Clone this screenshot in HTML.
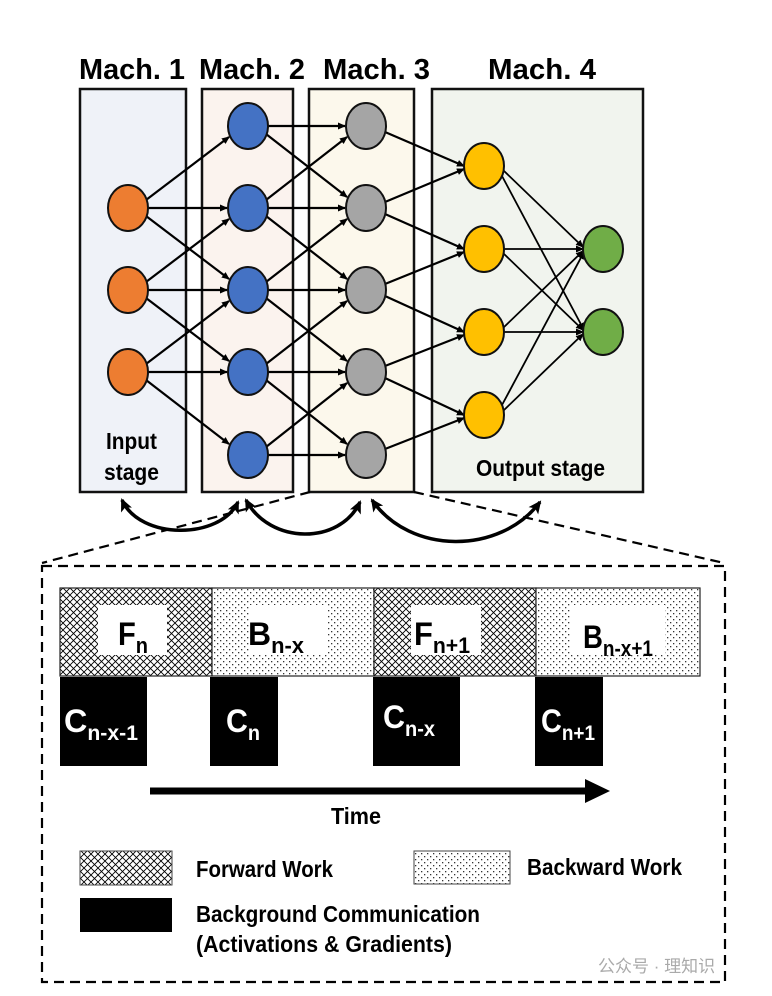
<!DOCTYPE html>
<html><head><meta charset="utf-8"><style>
html,body{margin:0;padding:0;background:#fff}
svg{display:block}
text{font-family:"Liberation Sans Narrow","Liberation Sans",sans-serif;font-weight:bold;fill:#000}
</style></head><body>
<svg width="772" height="996" viewBox="0 0 772 996" xmlns="http://www.w3.org/2000/svg">
<defs>
<marker id="a" markerWidth="8" markerHeight="8" refX="7" refY="4" orient="auto" markerUnits="userSpaceOnUse"><path d="M0,0.5 L8,4 L0,7.5 z" fill="#000"/></marker>
<marker id="b" markerWidth="14" markerHeight="14" refX="11" refY="7" orient="auto-start-reverse" markerUnits="userSpaceOnUse"><path d="M0,1 L13,7 L0,13 L3,7 z" fill="#000"/></marker>
<pattern id="x" width="7" height="7" patternUnits="userSpaceOnUse"><rect width="7" height="7" fill="#fff"/><path d="M0,0 L7,7 M7,0 L0,7" stroke="#000" stroke-width="0.9"/></pattern>
<pattern id="d" width="6" height="6" patternUnits="userSpaceOnUse"><rect width="6" height="6" fill="#fff"/><rect x="1" y="1" width="1.3" height="1.3" fill="#333"/><rect x="4" y="4" width="1.3" height="1.3" fill="#333"/></pattern>
</defs>

<text x="79" y="79" font-size="29" textLength="106" lengthAdjust="spacingAndGlyphs">Mach. 1</text>
<text x="199" y="79" font-size="29" textLength="106" lengthAdjust="spacingAndGlyphs">Mach. 2</text>
<text x="323" y="79" font-size="29" textLength="107" lengthAdjust="spacingAndGlyphs">Mach. 3</text>
<text x="488" y="79" font-size="29" textLength="108" lengthAdjust="spacingAndGlyphs">Mach. 4</text>

<rect x="80" y="89" width="106" height="403" fill="#eff2f8" stroke="#111" stroke-width="2.5"/>
<rect x="202" y="89" width="91" height="403" fill="#fbf3ee" stroke="#111" stroke-width="2.5"/>
<rect x="309" y="89" width="105" height="403" fill="#fcf8ec" stroke="#111" stroke-width="2.5"/>
<rect x="432" y="89" width="211" height="403" fill="#f1f4ee" stroke="#111" stroke-width="2.5"/>

<text x="106" y="449" font-size="23" textLength="51" lengthAdjust="spacingAndGlyphs">Input</text>
<text x="104" y="480" font-size="23" textLength="55" lengthAdjust="spacingAndGlyphs">stage</text>
<text x="476" y="476" font-size="23" textLength="129" lengthAdjust="spacingAndGlyphs">Output stage</text>

<g stroke="#000" stroke-width="2.2" marker-end="url(#a)" fill="none">
<line x1="146" y1="200" x2="229" y2="137"/><line x1="148" y1="208" x2="227" y2="208"/><line x1="146" y1="216" x2="229" y2="279"/>
<line x1="146" y1="282" x2="229" y2="219"/><line x1="148" y1="290" x2="227" y2="290"/><line x1="146" y1="298" x2="229" y2="361"/>
<line x1="146" y1="364" x2="229" y2="301"/><line x1="148" y1="372" x2="227" y2="372"/><line x1="146" y1="380" x2="229" y2="444"/>

<line x1="268" y1="126" x2="345" y2="126"/><line x1="266" y1="134" x2="347" y2="197"/>
<line x1="266" y1="200" x2="347" y2="137"/><line x1="268" y1="208" x2="345" y2="208"/><line x1="266" y1="216" x2="347" y2="279"/>
<line x1="266" y1="282" x2="347" y2="219"/><line x1="268" y1="290" x2="345" y2="290"/><line x1="266" y1="298" x2="347" y2="361"/>
<line x1="266" y1="364" x2="347" y2="301"/><line x1="268" y1="372" x2="345" y2="372"/><line x1="266" y1="380" x2="347" y2="444"/>
<line x1="266" y1="447" x2="347" y2="383"/><line x1="268" y1="455" x2="345" y2="455"/>

<line x1="385" y1="132" x2="464" y2="166"/>
<line x1="385" y1="202" x2="464" y2="169"/><line x1="385" y1="214" x2="464" y2="249"/>
<line x1="385" y1="284" x2="464" y2="252"/><line x1="385" y1="296" x2="464" y2="332"/>
<line x1="385" y1="366" x2="464" y2="335"/><line x1="385" y1="378" x2="464" y2="415"/>
<line x1="385" y1="449" x2="464" y2="418"/>
</g>
<g stroke="#000" stroke-width="1.8" marker-end="url(#a)" fill="none">
<line x1="503" y1="170" x2="583" y2="247"/><line x1="502" y1="176" x2="584" y2="330"/>
<line x1="504" y1="249" x2="583" y2="249"/><line x1="503" y1="253" x2="583" y2="330"/>
<line x1="503" y1="328" x2="583" y2="251"/><line x1="504" y1="332" x2="583" y2="332"/>
<line x1="502" y1="405" x2="584" y2="252"/><line x1="503" y1="411" x2="583" y2="334"/>
</g>

<g stroke="#111" stroke-width="2">
<ellipse cx="128" cy="208" rx="20" ry="23" fill="#ed7d31"/>
<ellipse cx="128" cy="290" rx="20" ry="23" fill="#ed7d31"/>
<ellipse cx="128" cy="372" rx="20" ry="23" fill="#ed7d31"/>
<ellipse cx="248" cy="126" rx="20" ry="23" fill="#4472c4"/>
<ellipse cx="248" cy="208" rx="20" ry="23" fill="#4472c4"/>
<ellipse cx="248" cy="290" rx="20" ry="23" fill="#4472c4"/>
<ellipse cx="248" cy="372" rx="20" ry="23" fill="#4472c4"/>
<ellipse cx="248" cy="455" rx="20" ry="23" fill="#4472c4"/>
<ellipse cx="366" cy="126" rx="20" ry="23" fill="#a5a5a5"/>
<ellipse cx="366" cy="208" rx="20" ry="23" fill="#a5a5a5"/>
<ellipse cx="366" cy="290" rx="20" ry="23" fill="#a5a5a5"/>
<ellipse cx="366" cy="372" rx="20" ry="23" fill="#a5a5a5"/>
<ellipse cx="366" cy="455" rx="20" ry="23" fill="#a5a5a5"/>
<ellipse cx="484" cy="166" rx="20" ry="23" fill="#ffc000"/>
<ellipse cx="484" cy="249" rx="20" ry="23" fill="#ffc000"/>
<ellipse cx="484" cy="332" rx="20" ry="23" fill="#ffc000"/>
<ellipse cx="484" cy="415" rx="20" ry="23" fill="#ffc000"/>
<ellipse cx="603" cy="249" rx="20" ry="23" fill="#70ad47"/>
<ellipse cx="603" cy="332" rx="20" ry="23" fill="#70ad47"/>
</g>

<g stroke="#000" stroke-width="3.5" fill="none" marker-end="url(#b)" marker-start="url(#b)">
<path d="M122,500 C140,540 220,540 238,502"/>
<path d="M246,500 C270,545 340,545 360,502"/>
<path d="M372,500 C410,555 500,555 540,502"/>
</g>

<g stroke="#000" stroke-width="2.2" fill="none" stroke-dasharray="10,6">
<line x1="310" y1="492" x2="42" y2="563"/>
<line x1="414" y1="492" x2="724" y2="563"/>
<rect x="42" y="566" width="683" height="416"/>
</g>

<rect x="60" y="588" width="152" height="88" fill="url(#x)" stroke="#222" stroke-width="1.2"/>
<rect x="212" y="588" width="162" height="88" fill="url(#d)" stroke="#222" stroke-width="1.2"/>
<rect x="374" y="588" width="162" height="88" fill="url(#x)" stroke="#222" stroke-width="1.2"/>
<rect x="536" y="588" width="164" height="88" fill="url(#d)" stroke="#222" stroke-width="1.2"/>
<rect x="98" y="605" width="69" height="50" fill="#fff"/>
<rect x="250" y="605" width="78" height="50" fill="#fff"/>
<rect x="411" y="605" width="70" height="50" fill="#fff"/>
<rect x="570" y="605" width="95" height="50" fill="#fff"/>
<text x="118" y="645" font-size="32" textLength="30" lengthAdjust="spacingAndGlyphs">F<tspan font-size="22" dy="8">n</tspan></text>
<text x="248" y="645" font-size="32" textLength="56" lengthAdjust="spacingAndGlyphs">B<tspan font-size="22" dy="8">n-x</tspan></text>
<text x="414" y="645" font-size="32" textLength="56" lengthAdjust="spacingAndGlyphs">F<tspan font-size="22" dy="8">n+1</tspan></text>
<text x="583" y="648" font-size="32" textLength="70" lengthAdjust="spacingAndGlyphs">B<tspan font-size="22" dy="8">n-x+1</tspan></text>

<rect x="60" y="677" width="87" height="89" fill="#000"/>
<rect x="210" y="677" width="68" height="89" fill="#000"/>
<rect x="373" y="677" width="87" height="89" fill="#000"/>
<rect x="535" y="677" width="68" height="89" fill="#000"/>
<text x="64" y="732" font-size="32" style="fill:#fff" textLength="74" lengthAdjust="spacingAndGlyphs">C<tspan font-size="21" dy="8">n-x-1</tspan></text>
<text x="226" y="732" font-size="32" style="fill:#fff" textLength="34" lengthAdjust="spacingAndGlyphs">C<tspan font-size="21" dy="8">n</tspan></text>
<text x="383" y="728" font-size="32" style="fill:#fff" textLength="52" lengthAdjust="spacingAndGlyphs">C<tspan font-size="21" dy="8">n-x</tspan></text>
<text x="541" y="732" font-size="32" style="fill:#fff" textLength="54" lengthAdjust="spacingAndGlyphs">C<tspan font-size="21" dy="8">n+1</tspan></text>

<line x1="150" y1="791" x2="590" y2="791" stroke="#000" stroke-width="7"/>
<path d="M585,779 L610,791 L585,803 z" fill="#000"/>
<text x="331" y="824" font-size="23" textLength="50" lengthAdjust="spacingAndGlyphs">Time</text>

<rect x="80" y="851" width="92" height="34" fill="url(#x)" stroke="#444" stroke-width="1"/>
<text x="196" y="877" font-size="23" textLength="137" lengthAdjust="spacingAndGlyphs">Forward Work</text>
<rect x="414" y="851" width="96" height="33" fill="url(#d)" stroke="#444" stroke-width="1"/>
<text x="527" y="875" font-size="23" textLength="155" lengthAdjust="spacingAndGlyphs">Backward Work</text>
<rect x="80" y="898" width="92" height="34" fill="#000"/>
<text x="196" y="922" font-size="23" textLength="284" lengthAdjust="spacingAndGlyphs">Background Communication</text>
<text x="196" y="952" font-size="23" textLength="256" lengthAdjust="spacingAndGlyphs">(Activations &amp; Gradients)</text>
<text x="598" y="972" font-size="17" style="fill:#aaa;font-weight:normal" font-family="Liberation Sans, Noto Sans CJK SC, sans-serif">公众号 · 理知识</text>
</svg>
</body></html>
